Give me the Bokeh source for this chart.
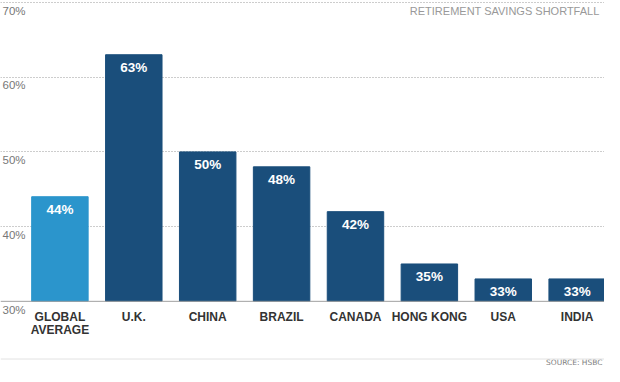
from bokeh.plotting import figure
from bokeh.models import Range1d, FixedTicker, Span, ColumnDataSource, Grid
from bokeh.core.properties import value
from bokeh.embed import file_html
from bokeh.resources import INLINE

# ---- data ----
categories = ["GLOBAL\nAVERAGE", "U.K.", "CHINA", "BRAZIL", "CANADA", "HONG KONG", "USA", "INDIA"]
shortfall = [44, 63, 50, 48, 42, 35, 33, 33]
bar_colors = ["#2b95cc", "#1a4e7b", "#1a4e7b", "#1a4e7b", "#1a4e7b", "#1a4e7b", "#1a4e7b", "#1a4e7b"]
y_ticks = [30, 40, 50, 60, 70]
y_tick_labels = ["30%", "40%", "50%", "60%", "70%"]
chart_title = "RETIREMENT SAVINGS SHORTFALL"
source_note = "SOURCE: HSBC"

# ---- geometry ----
W, H = 604, 366
X0, X1 = -0.804, 7.37
Y0, Y1 = 21.28, 70.26
PXX = W / (X1 - X0)
PXY = H / (Y1 - Y0)


def px_x(fx):
    return X0 + fx / PXX


def px_y(fy):
    return Y1 - fy / PXY


FONT = value("Liberation Sans")

p = figure(width=W, height=H, output_backend="svg", toolbar_location=None,
           x_range=Range1d(X0, X1), y_range=Range1d(Y0, Y1),
           x_axis_location=None, y_axis_location=None, min_border=0)
p.outline_line_color = None
p.background_fill_color = "white"
p.border_fill_color = "white"
p.center = []

grid = Grid(dimension=1, ticker=FixedTicker(ticks=y_ticks[1:]),
            grid_line_color="#9a9a9a", grid_line_dash="1 2", grid_line_width=1)
p.add_layout(grid, "center")

idx = list(range(len(categories)))
src = ColumnDataSource(dict(
    x=idx, top=shortfall, color=bar_colors, cat=categories,
    lab=[f"{v}%" for v in shortfall],
    laby=[v - 13 / PXY for v in shortfall],
    caty=[px_y(309.5)] * len(idx),
))

p.vbar(x="x", top="top", bottom=y_ticks[0], width=0.764, color="color", source=src)

# baseline
p.add_layout(Span(location=y_ticks[0], dimension="width", line_color="#a0a0a0", line_width=1))
# bottom rule
p.add_layout(Span(location=px_y(358.5), dimension="width", line_color="#e2e2e2", line_width=1))

# value labels
p.text(x="x", y="laby", text="lab", source=src, text_color="white", text_font=FONT,
       text_font_style="bold", text_font_size="13.5px", text_align="center",
       text_baseline="middle")

# category labels
p.text(x="x", y="caty", text="cat", source=src, text_color="#333333", text_font=FONT,
       text_font_style="bold", text_font_size="12px", text_align="center",
       text_baseline="top", text_line_height=0.95)

# y tick labels
tsrc = ColumnDataSource(dict(x=[px_x(2)] * len(y_ticks),
                             y=[t - 8.2 / PXY for t in y_ticks],
                             t=y_tick_labels))
p.text(x="x", y="y", text="t", source=tsrc, text_color="#777777", text_font=FONT,
       text_font_size="11.5px", text_align="left", text_baseline="middle")

# title
p.text(x=[px_x(599)], y=[px_y(10.5)], text=[chart_title], text_color="#999999",
       text_font=FONT, text_font_size="11px", text_align="right", text_baseline="middle")

# source
p.text(x=[px_x(602)], y=[px_y(362)], text=[source_note], text_color="#808080",
       text_font=value("DejaVu Sans"), text_font_size="7.5px", text_align="right",
       text_baseline="middle")

open("out.html", "w").write(file_html(p, INLINE))
